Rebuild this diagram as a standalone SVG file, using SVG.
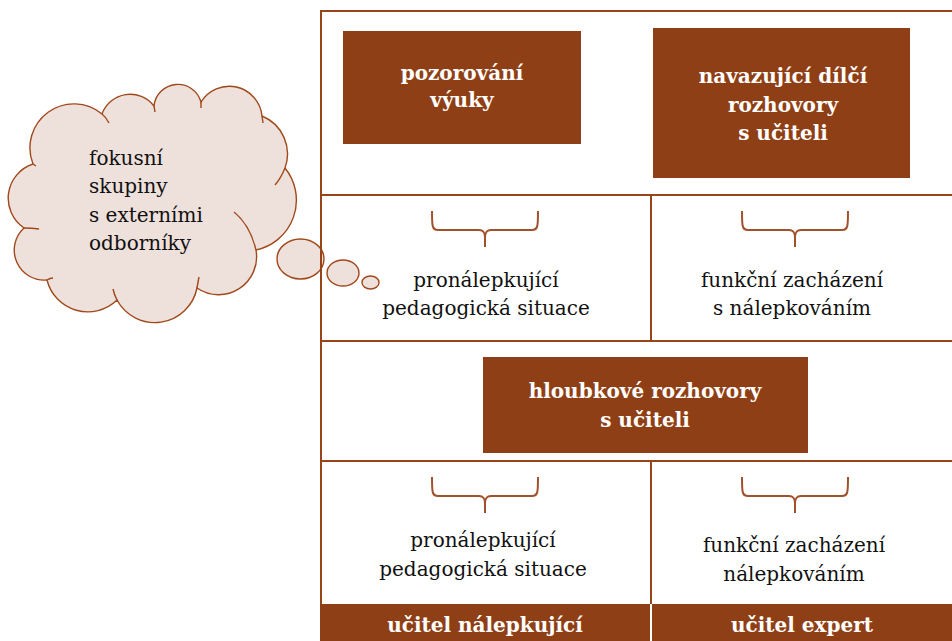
<svg xmlns="http://www.w3.org/2000/svg" width="952" height="641" viewBox="0 0 952 641">
<style>
.grid{stroke:#964418;stroke-width:2;fill:none}
.box{fill:#8f3f15}
.bt{font-family:"DejaVu Serif","Liberation Serif",serif;font-weight:bold;font-size:20px;fill:#ffffff;text-anchor:middle}
.t{font-family:"DejaVu Serif","Liberation Serif",serif;font-size:20px;fill:#111111;text-anchor:middle}
.ct{font-family:"DejaVu Serif","Liberation Serif",serif;font-size:20px;fill:#111111}
.brace{stroke:#a0522d;stroke-width:2;fill:none}
.cloud{fill:#eee0db;stroke:#a0481a;stroke-width:1.4}
.tail{fill:none;stroke:#a0481a;stroke-width:1.4}
</style>
<rect width="952" height="641" fill="#ffffff"/>

<g id="cloud">
<path class="cloud" d="M33,164 A44,44 0 0 1 102,114 A30,30 0 0 1 154,106 A24,24 0 0 1 201,102 A33,33 0 0 1 262,116 A41,41 0 0 1 285,168 A51,51 0 0 1 256,250 A38,38 0 0 1 197,288 A43,43 0 0 1 117,300 A42,42 0 0 1 47,280 A30,30 0 0 1 24,228 A36,36 0 0 1 33,164 Z"/>
<path class="tail" d="M102,114 Q106,117 109,123 M154,106 L155,112 M201,102 L201,108 M262,116 L263,123 M285,168 Q281,178 275,185 M256,250 Q250,225 234,212 M197,288 Q198,282 199,277 M117,300 Q114,294 113,289 M47,280 Q50,278 53,278 M24,228 Q32,228 39,229 M33,164 L36,166"/>
<ellipse class="cloud" cx="300.5" cy="259" rx="23.5" ry="20"/>
<ellipse class="cloud" cx="343" cy="273" rx="16" ry="13"/>
<ellipse class="cloud" cx="370.5" cy="282.5" rx="8.5" ry="6.5"/>
<text class="ct" x="89" y="165">fokusní</text>
<text class="ct" x="89" y="193">skupiny</text>
<text class="ct" x="89" y="222">s externími</text>
<text class="ct" x="89" y="250">odborníky</text>
</g>

<g id="table">
<path class="grid" d="M320,11 H952 M321,10 V641 M320,195 H952 M320,341 H952 M320,461 H952 M651,195 V341 M651,461 V604"/>
<rect class="box" x="320" y="604" width="330" height="37"/>
<rect class="box" x="652" y="604" width="300" height="37"/>
<text class="bt" x="485" y="632">učitel nálepkující</text>
<text class="bt" x="802" y="632">učitel expert</text>
</g>

<g id="pozorovani">
<rect class="box" x="343" y="31" width="238" height="113"/>
<text class="bt" x="462" y="80">pozorování</text>
<text class="bt" x="462" y="107">výuky</text>
</g>

<g id="navazujici">
<rect class="box" x="653" y="28" width="257" height="150"/>
<text class="bt" x="783" y="83">navazující dílčí</text>
<text class="bt" x="783" y="112">rozhovory</text>
<text class="bt" x="783" y="140">s učiteli</text>
</g>

<g id="hloubkove">
<rect class="box" x="483" y="357" width="325" height="96"/>
<text class="bt" x="645" y="398">hloubkové rozhovory</text>
<text class="bt" x="645" y="427">s učiteli</text>
</g>

<g id="connectors">
<path class="brace" d="M432,211 C432,226 432,230 438,230 L479,230 C484,230 485,233 485,238 L485,247 M485,238 C485,233 486,230 491,230 L532,230 C538,230 538,226 538,211"/>
<path class="brace" d="M742,211 C742,226 742,230 748,230 L789,230 C794,230 795,233 795,238 L795,247 M795,238 C795,233 796,230 801,230 L842,230 C848,230 848,226 848,211"/>
<path class="brace" d="M432,477 C432,492 432,496 438,496 L479,496 C484,496 485,499 485,504 L485,513 M485,504 C485,499 486,496 491,496 L532,496 C538,496 538,492 538,477"/>
<path class="brace" d="M742,477 C742,492 742,496 748,496 L789,496 C794,496 795,499 795,504 L795,513 M795,504 C795,499 796,496 801,496 L842,496 C848,496 848,492 848,477"/>
</g>

<g id="situace1">
<text class="t" x="486" y="287">pronálepkující</text>
<text class="t" x="486" y="315">pedagogická situace</text>
</g>
<g id="funkcni1">
<text class="t" x="792" y="287">funkční zacházení</text>
<text class="t" x="792" y="315">s nálepkováním</text>
</g>
<g id="situace2">
<text class="t" x="483" y="547">pronálepkující</text>
<text class="t" x="483" y="576">pedagogická situace</text>
</g>
<g id="funkcni2">
<text class="t" x="794" y="552">funkční zacházení</text>
<text class="t" x="794" y="581">nálepkováním</text>
</g>
</svg>
